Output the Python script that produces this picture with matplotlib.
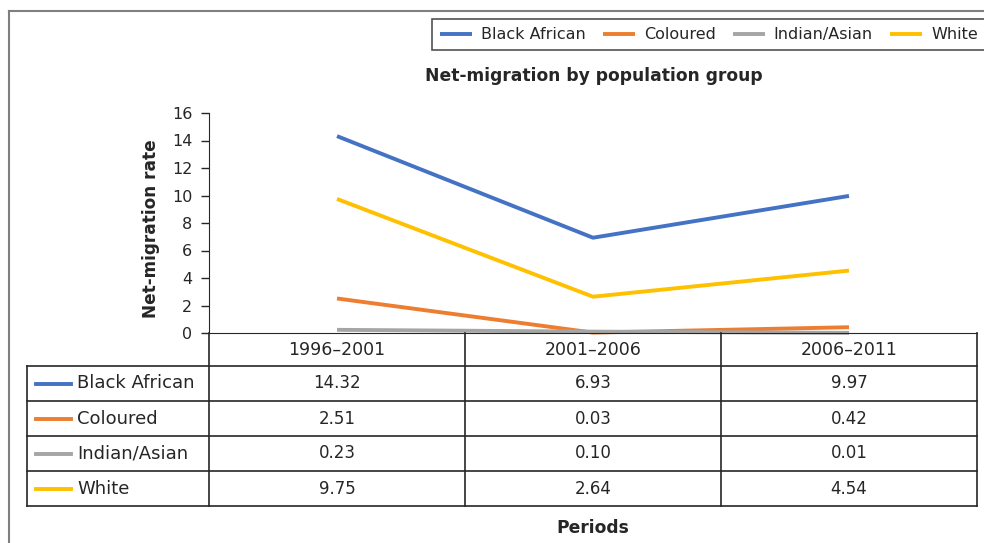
import matplotlib.pyplot as plt
from matplotlib.lines import Line2D

plt.rcParams['font.family'] = ['DejaVu Sans']

periods = ["1996–2001", "2001–2006", "2006–2011"]
groups = ["Black African", "Coloured", "Indian/Asian", "White"]
black_african = [14.32, 6.93, 9.97]
coloured = [2.51, 0.03, 0.42]
indian_asian = [0.23, 0.10, 0.01]
white = [9.75, 2.64, 4.54]
colors = ["#4472C4", "#ED7D31", "#A5A5A5", "#FFC000"]

series = [black_african, coloured, indian_asian, white]
W, H = 984, 543
txt = "#262626"

fig = plt.figure(figsize=(W / 100, H / 100), dpi=100)

def fx(px):
    return px / W

def fy(py):
    return 1 - py / H

# plot area
ax = fig.add_axes([fx(209), fy(333), fx(977) - fx(209), fy(113) - fy(333)])
xs = [i + 0.5 for i in range(len(periods))]
handles = []
for name, vals, c in zip(groups, series, colors):
    h, = ax.plot(xs, vals, color=c, lw=2.8, label=name, clip_on=False,
                 solid_capstyle='butt')
    handles.append(h)

ax.set_xlim(0, len(periods))
ax.set_ylim(0, 16)
ax.set_yticks(range(0, 17, 2))
ax.set_xticks([])
for s in ['top', 'right']:
    ax.spines[s].set_visible(False)
ax.spines['left'].set_color(txt)
ax.spines['bottom'].set_color(txt)
ax.tick_params(axis='y', length=6, width=1, color=txt, labelsize=11.5,
               labelcolor=txt, pad=6)
ax.set_ylabel("Net-migration rate", fontsize=12.2, fontweight='bold',
              color=txt)
ax.yaxis.set_label_coords((160 - 209) / 768.0, (333 - 229) / 220.0)

# data table under the axis
ax_h = 220.0
def ay(py):
    return -(py - 333) / ax_h

tr = ax.get_xaxis_transform()
left_x = -(209 - 27) / 256.0
row_tops = [366, 401, 436, 471, 506]
for y in row_tops:
    ax.add_line(Line2D([left_x, len(periods)], [ay(y), ay(y)], transform=tr,
                       color=txt, lw=1.2, clip_on=False))
for i in range(len(periods) + 1):
    ax.add_line(Line2D([i, i], [0, ay(506)], transform=tr, color=txt,
                       lw=1.2, clip_on=False))
ax.add_line(Line2D([left_x, left_x], [ay(366), ay(506)], transform=tr,
                   color=txt, lw=1.2, clip_on=False))

for i, p in enumerate(periods):
    ax.text(i + 0.5, ay(350), p, transform=tr, ha='center', va='center',
            fontsize=12.5, color=txt)

key0 = left_x + 9 / 256.0
key1 = left_x + 44 / 256.0
for r, (name, vals, c) in enumerate(zip(groups, series, colors)):
    yc = ay(row_tops[r] + 17.5)
    ax.add_line(Line2D([key0, key1], [yc, yc], transform=tr, color=c,
                       lw=2.8, clip_on=False))
    ax.text(left_x + 50 / 256.0, yc, name, transform=tr, ha='left',
            va='center', fontsize=13, color=txt)
    for i, v in enumerate(vals):
        ax.text(i + 0.5, yc, f"{v:.2f}", transform=tr, ha='center',
                va='center', fontsize=12, color=txt)

ax.text(1.5, ay(528), "Periods", transform=tr, ha='center', va='center',
        fontsize=12.3, fontweight='bold', color=txt)

fig.text(fx(594), fy(76), "Net-migration by population group",
         ha='center', va='center', fontsize=12.3, fontweight='bold', color=txt)

# outer frame
fig.add_artist(Line2D([fx(9), fx(9)], [fy(11), 0], transform=fig.transFigure,
                      color="#7F7F7F", lw=1.5))
fig.add_artist(Line2D([fx(9), 1], [fy(11), fy(11)], transform=fig.transFigure,
                      color="#7F7F7F", lw=1.5))

leg = fig.legend(handles=handles, loc='upper left',
                 bbox_to_anchor=(fx(424), fy(11.5)), ncol=4, fontsize=11.5,
                 frameon=True, fancybox=False, edgecolor=txt,
                 handlelength=2.0, columnspacing=1.08, handletextpad=0.56,
                 borderpad=0.5)
leg.get_frame().set_linewidth(1.2)
for t in leg.get_texts():
    t.set_color(txt)

fig.savefig("out.png", dpi=100)
